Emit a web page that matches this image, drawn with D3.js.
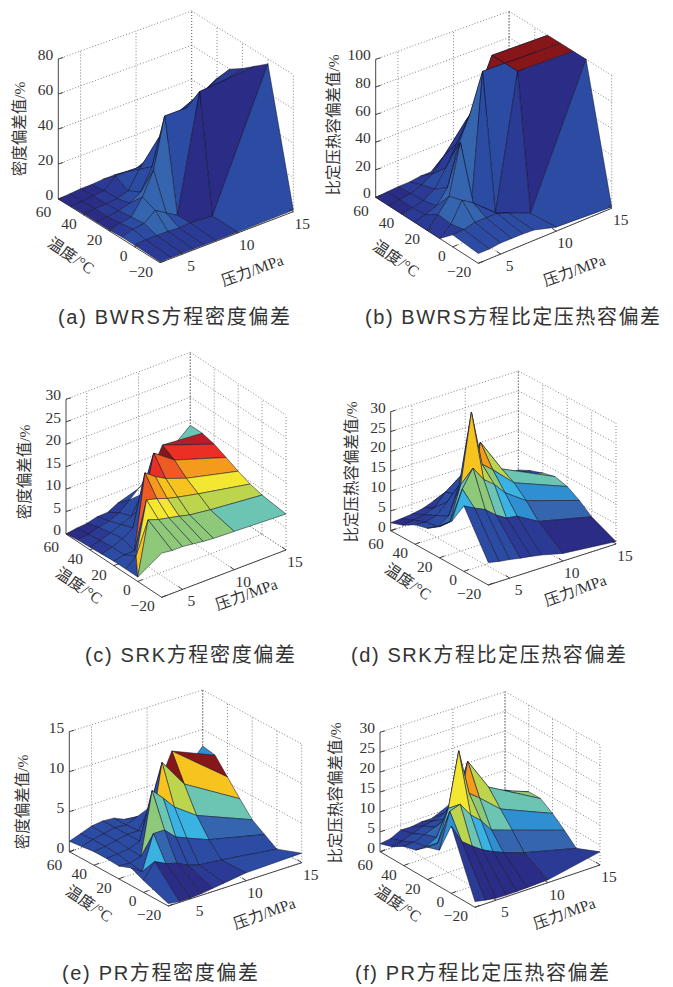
<!DOCTYPE html>
<meta charset="utf-8">
<style>
body { margin: 0; background: #fff; }
svg text { fill: #333; }
.tick, .title { font-family: "Liberation Serif", "Noto Sans CJK SC", serif; }
.caption { font-family: "Liberation Sans", "Noto Sans CJK SC", sans-serif; font-size: 20px; }
</style>
<body>
<script src="https://d3js.org/d3.v7.min.js"></script>
<script>

// grid of the surfaces
var pressures = [3, 4, 5, 6, 7, 8, 10, 15];
var temperatures = [-20, 0, 10, 20, 30, 40, 50, 60];

var pTicks = [5, 10, 15];
var tTicks = [-20, 0, 20, 40, 60];

// deviation values, one row per temperature, one column per pressure
var zA = [
  [0.5, 0.5, 0.5, 0.5, 0.5, 0.5, 0.5, 1],
  [1, 1.5, 1.5, 1.5, 1, 1.5, 0.5, 77],
  [1, 3, 3.8, 9, 5, 1.3, 68, 71],
  [0.5, 2, 3, 12, 25, 54, 54, 65],
  [0.5, 1, 2, 4, 8, 20, 45, 60],
  [0.5, 1, 1.5, 2, 4, 14, 30, 50],
  [0.3, 0.8, 1.5, 2, 8, 8, 8, 35],
  [0, 0.5, 1, 1, 1.5, 1.5, 0.5, 15]
];
var zB = [
  [7, 7, 8, 8, 8, 7.5, 3, 1],
  [8.6, 9, 11, 11, 11, 8, 1, 100],
  [0, 7, 21, 16, 9, 1.7, 100, 100],
  [0, 8, 18, 54, 6, 100, 100, 100],
  [0, 2, 5, 15, 44, 62, 100, 100],
  [0, 1, 3, 8, 20, 35, 60, 80],
  [0, 1, 2, 5, 10, 20, 40, 60],
  [0, 0.5, 1, 1, 2, 2, 9, 40]
];
var zC = [
  [9.8, 9.5, 9.5, 9.2, 8.9, 8.7, 8.5, 8],
  [1, 12.8, 12, 11.5, 11, 10.4, 9.8, 8.7],
  [1, 3, 14.6, 14, 13.2, 12.6, 11.6, 9.4],
  [1, 1.5, 1.5, 18, 16.3, 15, 13.3, 10.5],
  [0.8, 1.5, 2.5, 4, 8, 18.9, 15.6, 11.8],
  [0.6, 1.2, 2, 3, 4, 8, 17.2, 13],
  [0.4, 0.8, 1.5, 2, 3, 5, 15.6, 13.7],
  [0, 0.4, 0.6, 1.2, 1.3, 2.5, 4, 13.7]
];
var zD = [
  [5.6, 5, 4.6, 4.1, 3.7, 3.2, 1.9, 0.6],
  [16.3, 14.9, 13.7, 11.5, 9.9, 9.5, 6.5, 3.4],
  [10.8, 18, 22.4, 18.7, 16.6, 13.7, 10, 5.8],
  [7.8, 8.2, 16.6, 33.9, 20, 17.8, 12.8, 7.6],
  [5.7, 5.3, 7, 14, 10, 23, 14.6, 8.4],
  [4.9, 4.7, 5.5, 8, 9, 15, 11, 7.6],
  [3.1, 3.5, 4, 5, 8, 10, 8.5, 6.5],
  [2, 2.2, 2.5, 3, 4, 4, 5, 5]
];
var zE = [
  [0.3, 0.1, 0.1, 0.2, 0.4, 0.6, 1, 1.2],
  [1.5, 3.4, 2.7, 2.3, 1.6, 1.2, 0.9, 0],
  [2.2, 1.3, 5.6, 5.6, 4.3, 3.7, 2.6, 1],
  [1.6, 1.5, 1.9, 9.7, 8.3, 6.75, 4.8, 2],
  [1.7, 1.8, 2, 2.5, 3, 11.5, 7.9, 3.8],
  [1.7, 1.9, 2.2, 2.5, 2.5, 5, 11.2, 5.7],
  [1.5, 1.9, 2.2, 2.5, 2.4, 3, 10.6, 7.6],
  [1.3, 1.8, 2.3, 2.5, 2.4, 1.8, 0.5, 7.9]
];
var zF = [
  [1.4, 0.9, 0.5, 0.4, 0.4, 0.5, 0.7, 3.3],
  [16.7, 12, 10, 8.2, 6.9, 5.8, 4, 0.7],
  [9, 17.8, 18.7, 15.2, 12.9, 9.7, 7.9, 3.5],
  [8, 8.2, 16, 29.5, 18, 16, 11.5, 6],
  [5.6, 5.6, 7, 11, 10, 23.5, 15.3, 8],
  [4.8, 5, 6, 7, 8, 12, 13, 8],
  [3, 3.5, 4.5, 5.5, 6, 7, 11, 6],
  [2, 2.4, 3.7, 3.6, 4, 4, 6.4, 5]
];

// colour level of each face, [a, b] splits a face along its diagonal, null leaves it out,
// {tip: n} keeps only the far corner of the face
var cA = [
  [1, 1, 1, 1, 1, 1, 2],
  [2, 2, 3, 3, 2, 0, 0],
  [1, 2, 3, 3, 3, 2, 1],
  [0, 1, 2, 3, 2, 2, 1],
  [0, 1, 1, 2, 2, 2, 1],
  [0, 0, 1, 1, 2, 2, 1],
  [0, 0, 0, 1, 1, 1, 1]
];
var cB = [
  [2, 2, 2, 2, 2, 2, 2],
  [1, 3, 3, 2, 2, 1, 0],
  [1, 3, 3, 3, 2, 2, 15],
  [1, 2, 3, 3, 3, 15, 15],
  [1, 1, 2, 2, 2, 1, 1],
  [0, 1, 1, 2, 1, 1, 1],
  [0, 0, 1, 1, 1, 1, 1]
];
var cC = [
  [7, 7, 7, 7, 7, 7, 6],
  [[10, 2], 9, 9, 9, 8, 8, 8],
  [2, 2, 12, 11, 10, 10, 9],
  [2, 2, 2, 13, 13, 12, 11],
  [1, 2, 2, 2, 2, 15, 13],
  [1, 1, 2, 2, 2, null, [14, null]],
  [0, 0, 1, 1, 1, [null, 2], {tip: 6}]
];
var cD = [
  [2, 2, 2, 1, 1, 1, 0],
  [5, 7, 7, 6, 5, 4, 3],
  [4, 6, 10, 8, 7, 5, 4],
  [3, 3, 3, 3, 11, 8, 6],
  [2, 2, 2, 3, 3, 3, 7],
  [1, 1, 2, 2, 2, 2, 2],
  [0, 1, 1, 1, 2, 2, 2]
];
var cE = [
  [2, 0, 0, 0, 1, 1, 2],
  [2, 5, 3, 2, 2, 2, 2],
  [2, 2, 7, 6, 5, 5, 3],
  [2, 2, 2, 2, 10, 8, 6],
  [2, 2, 2, 2, 2, 15, 10],
  [2, 2, 2, 2, 2, null, [15, null]],
  [2, 2, 2, 2, 2, [null, 2], {tip: 4}]
];
var cF = [
  [1, 0, 0, 0, 0, 0, 1],
  [4, 8, 6, 5, 4, 3, 3],
  [3, 6, 9, 8, 7, 6, 4],
  [3, 4, 3, 3, 11, 8, 6],
  [2, 2, 3, 3, 3, 3, 7],
  [1, 2, 2, 2, 2, 2, 2],
  [1, 1, 1, 1, 2, 2, 2]
];

var colorLevels = ["#2a2c85", "#2b3a94", "#2c4ba3", "#3565ae", "#2f8fd0", "#3bb3e2", "#6cc5b2", "#8ec97a",
                   "#bcd54c", "#f4e731", "#f7c31e", "#f49a1c", "#ee5a24", "#ea2f25", "#b91c21", "#861618"];

var zTitleDensity = "密度偏差值/%";
var zTitleHeat = "比定压热容偏差值/%";
var tTitle = "温度/°C";
var pTitle = "压力/MPa";

// floor corners L, F, R (pixels) and the heights of the box at L, R and the back
var panels = [
  {z: zA, c: cA, zTicks: [0, 20, 40, 60, 80], L: [58.3, 199], F: [160, 262.7], R: [293.3, 211.7], hL: 140, hR: 137, hB: 137,
   zTitle: zTitleDensity, zAt: [21, 129], tAt: [70, 257], pAt: [253, 272],
   caption: "(a) BWRS方程密度偏差", capX: 58, capW: 232, capY: 324},
  {z: zB, c: cB, zTicks: [0, 20, 40, 60, 80, 100], L: [375.7, 197.3], F: [478.3, 263.3], R: [611.7, 208.3], hL: 138, hR: 133, hB: 131,
   zTitle: zTitleHeat, zAt: [335, 125], tAt: [395, 260], pAt: [575, 272],
   caption: "(b) BWRS方程比定压热容偏差", capX: 365, capW: 295, capY: 324},
  {z: zC, c: cC, zTicks: [0, 5, 10, 15, 20, 25, 30], L: [66, 534], F: [161.7, 597.3], R: [286, 550], hL: 134.7, hR: 135, hB: 134.4,
   zTitle: zTitleDensity, zAt: [26, 472], tAt: [78, 587], pAt: [247, 596],
   caption: "(c) SRK方程密度偏差", capX: 85, capW: 210, capY: 662},
  {z: zD, c: cD, zTicks: [0, 5, 10, 15, 20, 25, 30], L: [390.7, 530.7], F: [488.3, 585], R: [616, 544], hL: 119, hR: 120.7, hB: 118.7,
   zTitle: zTitleHeat, zAt: [353.5, 472], tAt: [407, 583], pAt: [576, 592],
   caption: "(d) SRK方程比定压热容偏差", capX: 351, capW: 275, capY: 662},
  {z: zE, c: cE, zTicks: [0, 5, 10, 15], L: [69.3, 851.7], F: [168.3, 906], R: [301.7, 862.7], hL: 120, hR: 118.7, hB: 118.4,
   zTitle: zTitleDensity, zAt: [24, 802], tAt: [88, 905], pAt: [265, 915],
   caption: "(e) PR方程密度偏差", capX: 62, capW: 196, capY: 980},
  {z: zF, c: cF, zTicks: [0, 5, 10, 15, 20, 25, 30], L: [380, 851.7], F: [475, 907.3], R: [600, 865], hL: 119.4, hR: 120, hB: 117.7,
   zTitle: zTitleHeat, zAt: [337, 793], tAt: [397, 905], pAt: [565, 915],
   caption: "(f) PR方程比定压热容偏差", capX: 355, capW: 254, capY: 980}
];

var width = 673, height = 987;

var svg = d3.select("body").append("svg")
    .attr("width", width)
    .attr("height", height);

var pScale = d3.scaleLinear().domain([3, 15]).range([0, 1]);
var tScale = d3.scaleLinear().domain([-20, 60]).range([0, 1]);
var outline = d3.line();

panels.forEach(drawPanel);

function drawPanel(d) {
  var g = svg.append("g");
  var zMax = d3.max(d.zTicks);
  var zScale = d3.scaleLinear().domain([0, zMax]).range([0, 1]);

  // pressure, temperature, deviation -> pixel
  function project(p, t, z) {
    var a = pScale(p), b = tScale(t), c = zScale(z);
    var hF = d.hL + d.hR - d.hB;
    var h = hF + (d.hR - hF) * a + (d.hL - hF) * b;
    return [d.F[0] + (d.R[0] - d.F[0]) * a + (d.L[0] - d.F[0]) * b,
            d.F[1] + (d.R[1] - d.F[1]) * a + (d.L[1] - d.F[1]) * b - h * c];
  }

  var pMin = 3, pMax = 15, tMin = -20, tMax = 60;
  var grid = [];
  d.zTicks.forEach(function(v) {
    grid.push([project(pMin, tMax, v), project(pMax, tMax, v)]);
    grid.push([project(pMax, tMax, v), project(pMax, tMin, v)]);
  });
  tTicks.forEach(function(v) {
    grid.push([project(pMin, v, 0), project(pMax, v, 0)]);
    grid.push([project(pMax, v, 0), project(pMax, v, zMax)]);
  });
  pTicks.forEach(function(v) {
    grid.push([project(v, tMin, 0), project(v, tMax, 0)]);
    grid.push([project(v, tMax, 0), project(v, tMax, zMax)]);
  });
  grid.push([project(pMax, tMax, 0), project(pMax, tMax, zMax)]);

  g.selectAll(".grid").data(grid).enter().append("path")
      .attr("class", "grid")
      .attr("d", outline)
      .attr("fill", "none")
      .attr("stroke", "#777")
      .attr("stroke-width", 0.9)
      .attr("stroke-dasharray", "1 2");

  // solid box edges
  var axes = [
    [project(pMin, tMax, 0), project(pMin, tMax, zMax)],
    [project(pMin, tMax, 0), project(pMin, tMin, 0)],
    [project(pMin, tMin, 0), project(pMax, tMin, 0)]
  ];
  g.selectAll(".axis").data(axes).enter().append("path")
      .attr("class", "axis")
      .attr("d", outline)
      .attr("fill", "none")
      .attr("stroke", "#333")
      .attr("stroke-width", 0.9);

  // faces back to front, so nearer ones paint over farther ones
  var faces = [];
  for (var i = temperatures.length - 2; i >= 0; i--) {
    for (var j = pressures.length - 2; j >= 0; j--) {
      var v00 = project(pressures[j], temperatures[i], d.z[i][j]),
          v01 = project(pressures[j + 1], temperatures[i], d.z[i][j + 1]),
          v11 = project(pressures[j + 1], temperatures[i + 1], d.z[i + 1][j + 1]),
          v10 = project(pressures[j], temperatures[i + 1], d.z[i + 1][j]);
      var level = d.c[i][j];
      if (level === null) continue;
      if (Array.isArray(level)) {
        if (level[1] !== null) faces.push({pts: [v00, v11, v10], level: level[1]});
        if (level[0] !== null) faces.push({pts: [v00, v01, v11], level: level[0]});
      } else if (level.tip !== undefined) {
        faces.push({pts: [v01, v11, v10], level: level.tip});
      } else {
        faces.push({pts: [v00, v01, v11, v10], level: level});
      }
    }
  }
  g.selectAll(".face").data(faces).enter().append("path")
      .attr("class", "face")
      .attr("d", function(f) { return outline(f.pts) + "Z"; })
      .attr("fill", function(f) { return colorLevels[f.level]; })
      .attr("stroke", "#10102a")
      .attr("stroke-opacity", 0.85)
      .attr("stroke-width", 0.6)
      .attr("stroke-linejoin", "round");

  // ticks and their labels
  function label(text, pos, dx, dy, anchor) {
    g.append("text")
        .attr("class", "tick")
        .attr("x", pos[0] + dx)
        .attr("y", pos[1] + dy)
        .attr("text-anchor", anchor)
        .attr("font-size", 15.5)
        .text(text);
  }
  function tickMark(from, to) {
    g.append("path")
        .attr("d", outline([from, to]))
        .attr("stroke", "#333")
        .attr("stroke-width", 0.9);
  }
  d.zTicks.forEach(function(v) {
    var pos = project(pMin, tMax, v);
    tickMark(pos, [pos[0] + 5, pos[1] - 1.5]);
    label(v, pos, -5, 1, "end");
  });
  tTicks.forEach(function(v) {
    var pos = project(pMin, v, 0);
    tickMark(pos, [pos[0] + 5, pos[1] - 2]);
    // the top label sits a little lower to clear the 0 of the vertical axis
    label(String(v).replace("-", "\u2212"), pos, -7, v === tMax ? 18.2 : 14, "end");
  });
  pTicks.forEach(function(v) {
    var pos = project(v, tMin, 0);
    tickMark(pos, [pos[0] - 4, pos[1] - 3]);
    label(v, pos, 9, 17, "middle");
  });

  // axis titles
  function title(text, at, angle, size) {
    g.append("text")
        .attr("class", "title")
        .attr("transform", "translate(" + at[0] + "," + at[1] + ") rotate(" + angle + ")")
        .attr("text-anchor", "middle")
        .attr("dominant-baseline", "middle")
        .attr("font-size", size)
        .text(text);
  }
  title(d.zTitle, d.zAt, -90, 15.5);
  title(tTitle, d.tAt, 34, 15.5);
  title(pTitle, d.pAt, -20, 15.5);

  g.append("text")
      .attr("class", "caption")
      .attr("x", d.capX)
      .attr("y", d.capY)
      .attr("textLength", d.capW)
      .attr("lengthAdjust", "spacing")
      .text(d.caption);
}

</script>
</body>
